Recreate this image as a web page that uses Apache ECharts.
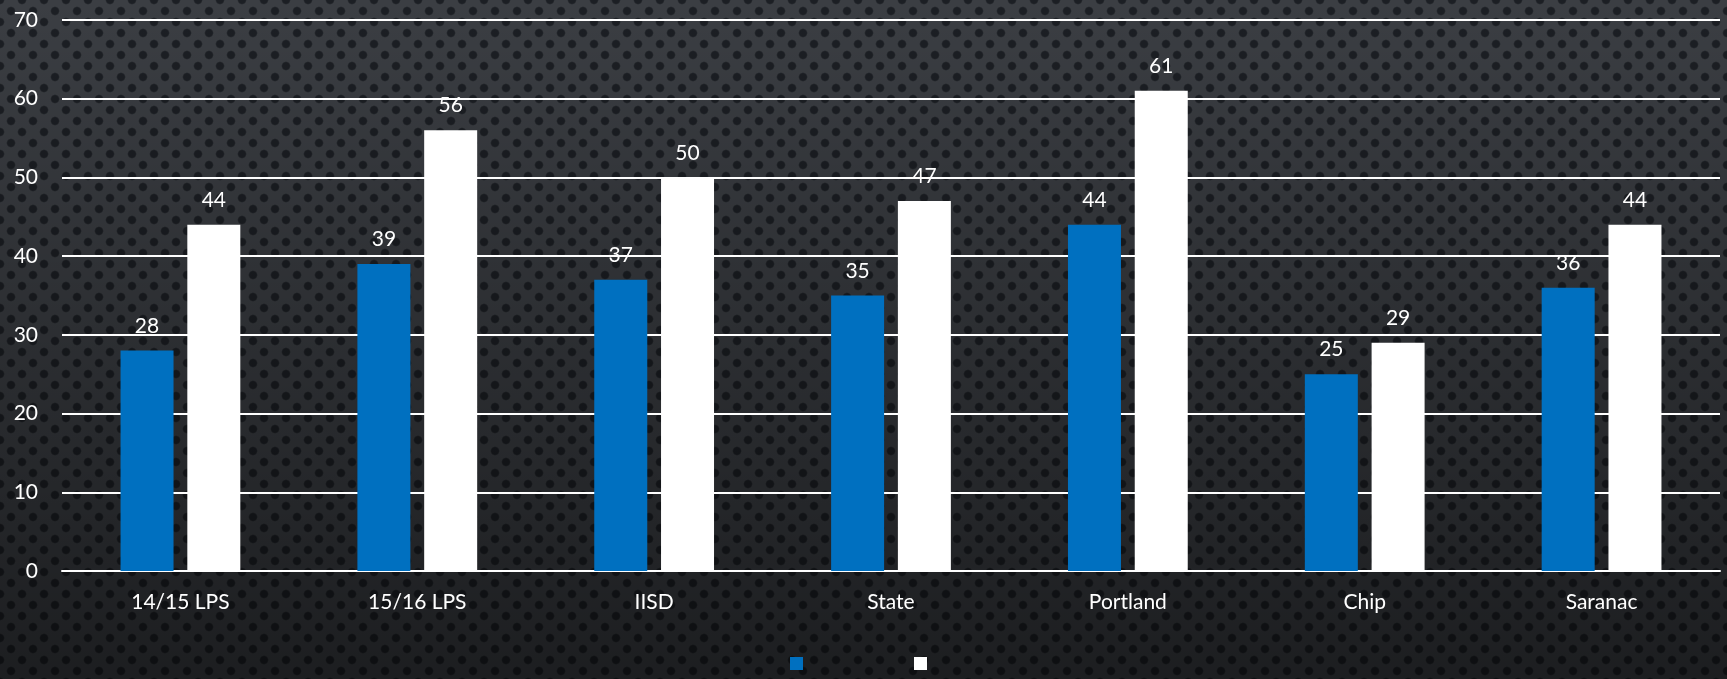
<!DOCTYPE html>
<html>
<head>
<meta charset="utf-8">
<script src="https://cdn.jsdelivr.net/npm/echarts@6/dist/echarts.min.js"></script>
<style>
  html, body { margin: 0; padding: 0; }
  /* dark perforated backdrop, fading darker toward the bottom */
  #chart {
    width: 1727px; height: 679px;
    background:
      linear-gradient(to bottom, rgba(0,0,0,0) 0%, rgba(0,0,0,0.52) 100%),
      radial-gradient(circle, #1c1f24 3.4px, rgba(28,31,36,0) 4.8px) 0 0 / 22px 22px,
      radial-gradient(circle, #1c1f24 3.4px, rgba(28,31,36,0) 4.8px) 11px 11px / 22px 22px,
      #3b3e43;
  }
</style>
</head>
<body>
<div id="chart"></div>
<script>
  // 数据
  const categories = ['14/15 LPS', '15/16 LPS', 'IISD', 'State', 'Portland', 'Chip', 'Saranac'];
  const seriesA = [28, 39, 37, 35, 44, 25, 36];
  const seriesB = [44, 56, 50, 47, 61, 29, 44];
  const yTicks = { min: 0, max: 70, interval: 10 };

  const font = 'Lato, "Open Sans", sans-serif';

  let myChart = echarts.init(document.getElementById('chart'));
  myChart.setOption({
    backgroundColor: 'transparent',
    animation: false,
    grid: { left: 62, right: 7, top: 20, bottom: 108 },
    legend: {
      bottom: 4,
      left: 785,
      itemWidth: 13,
      itemHeight: 13,
      itemGap: 111,
      icon: 'rect',
      formatter: () => '',
      data: ['A', 'B']
    },
    xAxis: {
      type: 'category',
      data: categories,
      axisLine: { lineStyle: { color: '#ffffff', width: 2 } },
      axisTick: { show: false },
      axisLabel: { color: '#ffffff', fontSize: 21, fontFamily: font, margin: 21 }
    },
    yAxis: {
      type: 'value',
      min: yTicks.min,
      max: yTicks.max,
      interval: yTicks.interval,
      axisLine: { show: false },
      axisTick: { show: false },
      axisLabel: { color: '#ffffff', fontSize: 21, fontFamily: font, margin: 24 },
      splitLine: { lineStyle: { color: '#ffffff', width: 2 } }
    },
    series: [
      {
        name: 'A',
        type: 'bar',
        data: seriesA,
        barWidth: 53,
        barGap: '26%',
        itemStyle: { color: '#0070c0' },
        label: { show: true, position: 'top', distance: 14, color: '#ffffff', fontSize: 21, fontFamily: font }
      },
      {
        name: 'B',
        type: 'bar',
        data: seriesB,
        barWidth: 53,
        itemStyle: { color: '#ffffff' },
        label: { show: true, position: 'top', distance: 14, color: '#ffffff', fontSize: 21, fontFamily: font }
      }
    ]
  });
</script>
</body>
</html>
